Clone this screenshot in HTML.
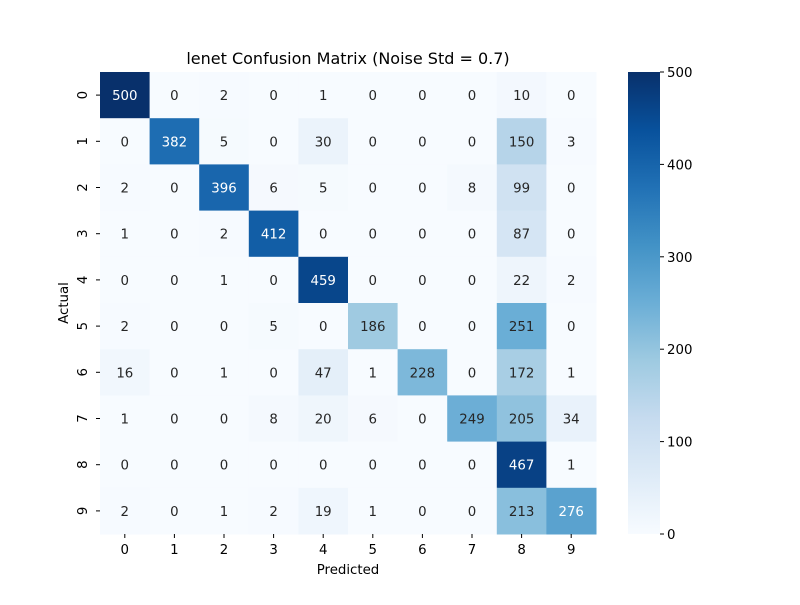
<!DOCTYPE html>
<html><head><meta charset="utf-8"><style>
body{margin:0;background:#fff}
svg text{font-family:"DejaVu Sans","Liberation Sans",sans-serif;}
</style></head><body>
<svg id="c" width="800" height="600" xmlns="http://www.w3.org/2000/svg">
<defs><linearGradient id="cbg" x1="0" y1="1" x2="0" y2="0">
<stop offset="0" stop-color="#f7fbff"/><stop offset="0.125" stop-color="#deebf7"/><stop offset="0.25" stop-color="#c6dbef"/><stop offset="0.375" stop-color="#9ecae1"/><stop offset="0.5" stop-color="#6baed6"/><stop offset="0.625" stop-color="#4292c6"/><stop offset="0.75" stop-color="#2171b5"/><stop offset="0.875" stop-color="#08519c"/><stop offset="1" stop-color="#08306b"/></linearGradient></defs>
<text x="348" y="64" text-anchor="middle" font-size="16">lenet Confusion Matrix (Noise Std = 0.7)</text>
<text x="348" y="574" text-anchor="middle" font-size="13.33">Predicted</text>
<text transform="translate(68,303) rotate(-90)" text-anchor="middle" font-size="13.33">Actual</text>
<g id="cells"></g>
<rect x="628" y="72" width="32" height="462" fill="url(#cbg)"/>
<g id="cb"></g>
</svg>
<script>
const labels=["0","1","2","3","4","5","6","7","8","9"];
const row0=[500,0,2,0,1,0,0,0,10,0];
const row1=[0,382,5,0,30,0,0,0,150,3];
const row2=[2,0,396,6,5,0,0,8,99,0];
const row3=[1,0,2,412,0,0,0,0,87,0];
const row4=[0,0,1,0,459,0,0,0,22,2];
const row5=[2,0,0,5,0,186,0,0,251,0];
const row6=[16,0,1,0,47,1,228,0,172,1];
const row7=[1,0,0,8,20,6,0,249,205,34];
const row8=[0,0,0,0,0,0,0,0,467,1];
const row9=[2,0,1,2,19,1,0,0,213,276];
const matrix=[row0,row1,row2,row3,row4,row5,row6,row7,row8,row9];
const cbTicks=[0,100,200,300,400,500];
const vmax=500;
const X0=100,X1=596,Y0=72,Y1=534;
const cw=(X1-X0)/10,ch=(Y1-Y0)/10;
const xs=i=>X0+i*cw, ys=j=>Y0+j*ch, cbY=v=>Y1-(v/vmax)*(Y1-Y0);
const stops=[[247,251,255],[222,235,247],[198,219,239],[158,202,225],[107,174,214],[66,146,198],[33,113,181],[8,81,156],[8,48,107]];
function col(v){let t=Math.max(0,Math.min(1,v/vmax))*8;let i=Math.min(7,Math.floor(t));let f=t-i;
const a=stops[i],b=stops[i+1];return `rgb(${a.map((c,k)=>Math.round(c+(b[k]-c)*f)).join(",")})`;}
const NS="http://www.w3.org/2000/svg";
function mk(t,at,p){const e=document.createElementNS(NS,t);for(const k in at)e.setAttribute(k,at[k]);p.appendChild(e);return e;}
const g=document.getElementById("cells"),svg=document.getElementById("c"),cb=document.getElementById("cb");
matrix.forEach((row,r)=>row.forEach((v,c)=>{
 const rc=mk("rect",{x:xs(c),y:ys(r),width:cw+0.5,height:ch+0.5,fill:col(v)},g);
 
 
 const t=mk("text",{x:xs(c)+cw/2,y:ys(r)+ch/2+5,"text-anchor":"middle","font-size":13.33,fill:v/vmax>0.54?"#fff":"#262626"},g);
 t.textContent=v;
 
 
}));
labels.forEach((l,i)=>{
 const tk=mk("line",{x1:xs(i)+cw/2,x2:xs(i)+cw/2,y1:Y1,y2:Y1+4,stroke:"#000"},svg);
 
 
 const t=mk("text",{x:xs(i)+cw/2,y:Y1+20,"text-anchor":"middle","font-size":13.33},svg);t.textContent=l;
 
 
 const tk2=mk("line",{x1:X0-4,x2:X0,y1:ys(i)+ch/2,y2:ys(i)+ch/2,stroke:"#000"},svg);
 
 
 const t2=mk("text",{transform:`translate(${X0-13},${ys(i)+ch/2}) rotate(-90)`,"text-anchor":"middle","font-size":13.33},svg);t2.textContent=l;
 
 
});
cbTicks.forEach(v=>{
 const tk=mk("line",{x1:660,x2:664,y1:cbY(v),y2:cbY(v),stroke:"#000"},cb);
 
 
 const t=mk("text",{x:667,y:cbY(v)+5,"font-size":13.33},cb);t.textContent=v;
 
 
});
</script>
</body></html>
